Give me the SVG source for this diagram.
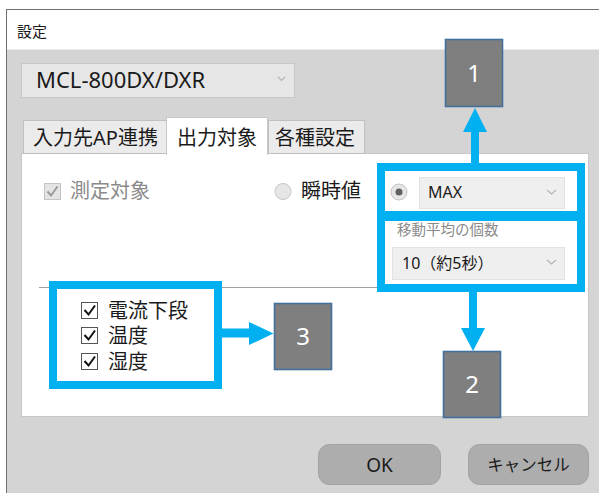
<svg xmlns="http://www.w3.org/2000/svg" width="599" height="493" viewBox="0 0 599 493">
<defs>
<style>
.t{font-family:"Noto Sans","Noto Sans CJK JP",sans-serif;fill:#1a1a1a}
.g{fill:#8a8a8a}
.tab{fill:#ebebeb;stroke:#c0c0c0;stroke-width:1}
.combo{fill:#efefef;stroke:#e2e2e2;stroke-width:1}
.chev{fill:none;stroke:#b4b4b4;stroke-width:1.2}
.hl{fill:none;stroke:#00b0f0;stroke-width:8}
.num{fill:#7f7f7f;stroke:#41719c;stroke-width:1.6}
.numt{font-family:"Noto Sans",sans-serif;font-size:24px;fill:#ffffff;text-anchor:middle}
.cb{fill:#ffffff;stroke:#555555;stroke-width:1}
.ck{fill:none;stroke:#111111;stroke-width:2}
.btn{fill:#adadad;stroke:#a2a2a2;stroke-width:1}
.arr{fill:#00b0f0}
</style>
</defs>
<rect x="0" y="0" width="599" height="493" fill="#ffffff"/>
<g id="window">
<rect x="6" y="9" width="593" height="484" fill="#d4d4d4"/>
<rect x="6.5" y="9.5" width="593" height="40" fill="#ffffff"/>
<line x1="6" y1="9.5" x2="599" y2="9.5" stroke="#707070"/>
<line x1="6.5" y1="9" x2="6.5" y2="493" stroke="#707070"/>
<text class="t" x="17" y="37" font-size="15">設定</text>
</g>
<g id="device-select">
<rect x="21.5" y="63.5" width="273" height="34" fill="#e6e6e6" stroke="#c8c8c8"/>
<text class="t" x="36" y="88" font-size="22">MCL-800DX/DXR</text>
<polyline class="chev" points="278,77 281.5,80.5 285,77" stroke="#777"/>
</g>
<g id="panel">
<rect x="21.5" y="153.5" width="567" height="263" fill="#ffffff" stroke="#c8c8c8"/>
</g>
<g id="tabs">
<rect class="tab" x="23.5" y="120.5" width="143" height="33"/>
<text class="t" x="33" y="145" font-size="20">入力先AP連携</text>
<rect class="tab" x="268.5" y="120.5" width="96" height="33"/>
<text class="t" x="275" y="145" font-size="20">各種設定</text>
<rect x="166.5" y="117.5" width="101" height="37" fill="#ffffff" stroke="#c8c8c8"/>
<rect x="167" y="152" width="100" height="4" fill="#ffffff"/>
<text class="t" x="177" y="145" font-size="20">出力対象</text>
</g>
<g id="measure-row">
<rect x="44.5" y="183.5" width="16" height="16" fill="#e4e4e4" stroke="#c4c4c4"/>
<polyline points="47.5,191.5 51,195.5 57.5,186.5" fill="none" stroke="#9a9a9a" stroke-width="2"/>
<text class="t g" x="70" y="198" font-size="20">測定対象</text>
<circle cx="283" cy="191.5" r="8" fill="#e6e6e6" stroke="#c4c4c4"/>
<text class="t" x="301" y="198" font-size="20">瞬時値</text>
<circle cx="399" cy="192" r="8" fill="#e6e6e6" stroke="#c4c4c4"/>
<circle cx="399" cy="192" r="3.5" fill="#606060"/>
<rect class="combo" x="419.5" y="177.5" width="145" height="31"/>
<text class="t" x="428" y="198" font-size="16">MAX</text>
<polyline class="chev" points="547,190 551.5,194 556,190"/>
<text class="t g" x="397" y="235" font-size="14.5">移動平均の個数</text>
<rect class="combo" x="392.5" y="247.5" width="172" height="32"/>
<text class="t" x="402" y="269" font-size="16">10（約5秒）</text>
<polyline class="chev" points="547,260 551.5,264 556,260"/>
</g>
<line x1="39" y1="287.5" x2="578" y2="287.5" stroke="#a0a0a0"/>
<g id="outputs">
<rect class="cb" x="81.5" y="302.5" width="16" height="16"/>
<polyline class="ck" points="84.5,310 88.5,314.5 95,305.5"/>
<text class="t" x="108" y="318" font-size="20">電流下段</text>
<rect class="cb" x="81.5" y="327.5" width="16" height="16"/>
<polyline class="ck" points="84.5,335 88.5,339.5 95,330.5"/>
<text class="t" x="108" y="343" font-size="20">温度</text>
<rect class="cb" x="81.5" y="353.5" width="16" height="16"/>
<polyline class="ck" points="84.5,361 88.5,365.5 95,356.5"/>
<text class="t" x="108" y="369" font-size="20">湿度</text>
</g>
<g id="buttons">
<rect class="btn" x="318.5" y="444.5" width="122" height="40" rx="11"/>
<text class="t" x="379.5" y="472" font-size="19" text-anchor="middle">OK</text>
<rect class="btn" x="468.5" y="444.5" width="120" height="40" rx="11"/>
<text class="t" x="528.5" y="471" font-size="16.5" text-anchor="middle">キャンセル</text>
</g>
<g id="highlights">
<rect id="hl-max" class="hl" x="381" y="167" width="200" height="50"/>
<rect id="hl-avg" class="hl" x="381" y="215" width="200" height="73"/>
<rect id="hl-items" class="hl" x="53" y="285" width="165" height="100"/>
</g>
<g id="connectors">
<rect class="arr" x="471" y="131" width="8" height="33"/>
<polygon class="arr" points="463,132 487,132 475,108"/>
<rect class="arr" x="469" y="291" width="8" height="38"/>
<polygon class="arr" points="461,328 485,328 473,351"/>
<rect class="arr" x="221" y="328.5" width="29" height="9"/>
<polygon class="arr" points="249,322 249,345 273.5,333.5"/>
</g>
<g id="label-1">
<rect class="num" x="445.5" y="39.5" width="57" height="67"/>
<text class="numt" x="474" y="82">1</text>
</g>
<g id="label-2">
<rect class="num" x="443.5" y="351.5" width="57" height="66"/>
<text class="numt" x="472" y="393">2</text>
</g>
<g id="label-3">
<rect class="num" x="274.5" y="303.5" width="57" height="66"/>
<text class="numt" x="303" y="345">3</text>
</g>
</svg>
